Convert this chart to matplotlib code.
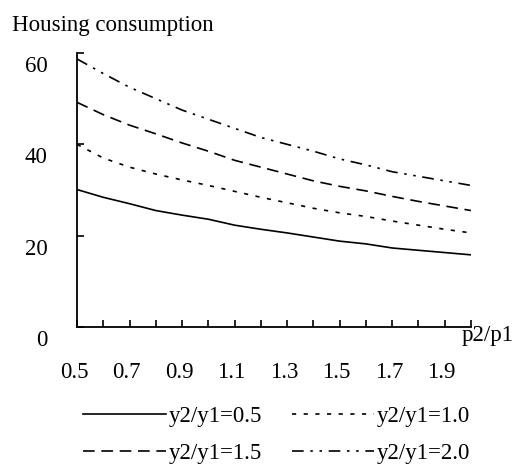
import matplotlib
matplotlib.use("Agg")
import matplotlib.pyplot as plt
import matplotlib.transforms as mtransforms
import numpy as np

plt.rcParams['font.family'] = ['Liberation Serif', 'DejaVu Serif']

price_ratio = [0.5, 0.6, 0.7, 0.8, 0.9, 1.0, 1.1, 1.2, 1.3, 1.4, 1.5, 1.6, 1.7, 1.8, 1.9, 2.0]
y_05 = [30.1, 28.4, 27.0, 25.5, 24.5, 23.6, 22.3, 21.4, 20.6, 19.7, 18.8, 18.2, 17.3, 16.8, 16.3, 15.8]
y_10 = [40.0, 37.0, 35.0, 33.5, 32.2, 31.0, 29.7, 28.4, 27.2, 26.0, 25.0, 24.2, 23.2, 22.3, 21.4, 20.6]
y_15 = [49.2, 46.5, 44.2, 42.3, 40.3, 38.5, 36.5, 35.0, 33.5, 32.0, 30.8, 29.8, 28.6, 27.5, 26.5, 25.5]
y_20 = [58.7, 55.5, 52.5, 50.0, 47.5, 45.5, 43.5, 41.5, 40.0, 38.5, 36.8, 35.5, 34.0, 33.0, 32.0, 31.0]
series_labels = ["y2/y1=0.5", "y2/y1=1.0", "y2/y1=1.5", "y2/y1=2.0"]
x_tick_major = [0.5, 0.7, 0.9, 1.1, 1.3, 1.5, 1.7, 1.9]
x_tick_minor = [0.6, 0.8, 1.0, 1.2, 1.4, 1.6, 1.8, 2.0]
y_ticks = [0, 20, 40, 60]

FS = 16.5
W, H = 531, 468
fig = plt.figure(figsize=(W / 100, H / 100), dpi=100)
ax = fig.add_axes([77 / W, 1 - 327 / H, (471 - 77) / W, (327 - 53) / H])

styles = [
    dict(linestyle='-'),
    dict(linestyle=(0, (2.5, 4.5))),
    dict(linestyle=(0, (7.0, 4.0))),
    dict(linestyle=(0, (7.0, 4.0, 1.5, 4.0, 1.5, 4.0))),
]
handles = []
for ys, st, lab in zip([y_05, y_10, y_15, y_20], styles, series_labels):
    h, = ax.plot(price_ratio, ys, color='black', linewidth=1.2, label=lab, **st)
    handles.append(h)

ax.set_xlim(0.5, 2.0)
ax.set_ylim(0, 60)
ax.spines['top'].set_visible(False)
ax.spines['right'].set_visible(False)
for s in ['left', 'bottom']:
    ax.spines[s].set_linewidth(1.3)

ax.set_xticks(x_tick_major)
ax.set_xticklabels([f"{v:.1f}" for v in x_tick_major])
ax.set_xticks(x_tick_minor, minor=True)
ax.set_yticks(y_ticks)
ax.set_yticklabels([str(v) for v in y_ticks])
ax.tick_params(axis='x', which='both', direction='in', length=5, width=1.2, pad=25, labelsize=FS)
ax.tick_params(axis='y', which='both', direction='in', length=5, width=1.2, pad=21, labelsize=FS)

for lbl in ax.get_yticklabels():
    lbl.set_transform(lbl.get_transform() + mtransforms.ScaledTranslation(0, -0.11, fig.dpi_scale_trans))
for lbl in ax.get_xticklabels():
    lbl.set_transform(lbl.get_transform() + mtransforms.ScaledTranslation(-0.03, 0, fig.dpi_scale_trans))

fig.text(12 / W, 1 - 25 / H, "Housing consumption", fontsize=FS, ha='left', va='center')
fig.text(462 / W, 1 - 335 / H, "p2/p1", fontsize=FS, ha='left', va='center')

order = [0, 2, 1, 3]
leg = fig.legend(handles=[handles[i] for i in order], labels=[series_labels[i] for i in order],
                 ncol=2, loc='center',
                 bbox_to_anchor=(277 / W, 1 - 435 / H), frameon=False, fontsize=FS,
                 handlelength=3.6, handletextpad=0.12, columnspacing=1.3,
                 labelspacing=0.7, borderpad=0)
for lh in leg.get_lines():
    lh.set_linewidth(1.2)

fig.savefig("out.png", dpi=100)
